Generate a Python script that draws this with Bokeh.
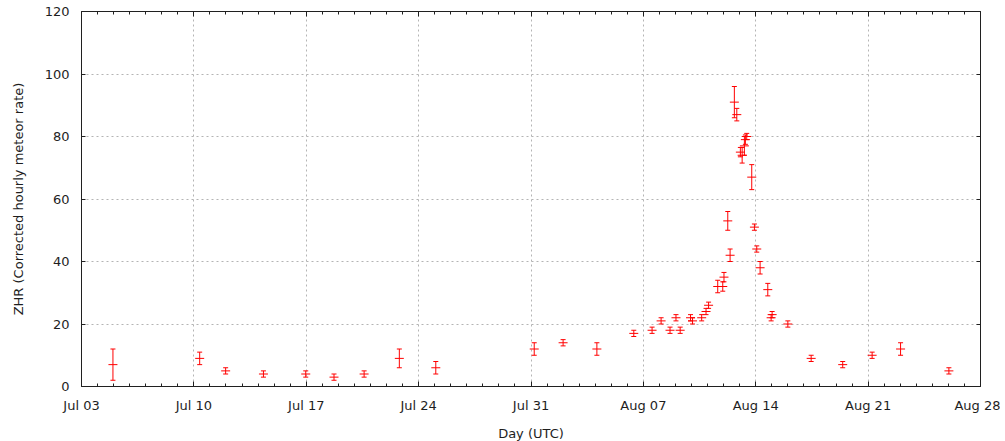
import pandas as pd
from bokeh.plotting import figure
from bokeh.models import (Range1d, FixedTicker, DatetimeAxis, LinearAxis,
                          Whisker, TeeHead, ColumnDataSource, DatetimeTickFormatter,
                          CustomJSTickFormatter)
from bokeh.embed import file_html
from bokeh.resources import INLINE

# ---- data ----
obs_time = [
    "2015-07-04 23:00", "2015-07-10 08:40", "2015-07-11 23:30", "2015-07-14 08:00",
    "2015-07-16 23:15", "2015-07-18 17:30", "2015-07-20 14:30", "2015-07-22 19:10",
    "2015-07-25 01:40", "2015-07-31 04:50", "2015-08-02 00:00", "2015-08-04 02:30",
    "2015-08-06 09:40", "2015-08-07 13:00", "2015-08-08 02:30", "2015-08-08 15:50",
    "2015-08-09 00:45", "2015-08-09 07:00", "2015-08-09 22:30", "2015-08-10 01:30",
    "2015-08-10 15:10", "2015-08-10 21:40", "2015-08-11 01:30", "2015-08-11 15:10",
    "2015-08-11 22:40", "2015-08-12 00:30", "2015-08-12 06:10", "2015-08-12 09:40",
    "2015-08-12 16:00", "2015-08-12 19:40", "2015-08-13 01:00", "2015-08-13 03:40",
    "2015-08-13 07:00", "2015-08-13 08:30", "2015-08-13 10:30", "2015-08-13 18:00",
    "2015-08-13 22:00", "2015-08-14 01:30", "2015-08-14 06:30", "2015-08-14 18:00",
    "2015-08-15 00:30", "2015-08-14 23:00", "2015-08-16 00:00", "2015-08-17 10:50",
    "2015-08-19 10:00", "2015-08-21 06:00", "2015-08-23 00:30", "2015-08-26 00:45",
]
zhr = [
    7, 9, 5, 4, 4, 3, 4, 9, 6, 12, 14, 12,
    17, 18, 21, 18, 22, 18, 22, 21, 22, 24, 26, 32,
    32, 35, 53, 42, 91, 87, 75, 74, 77, 79, 80, 67,
    51, 44, 38, 31, 23, 22, 20, 9, 7, 10, 12, 5,
]
zhr_err = [
    5, 2, 1, 1, 1, 1, 1, 3, 2, 2, 1, 2,
    1, 1, 1, 1, 1, 1, 1, 1, 1, 1, 1, 2,
    1.5, 1.5, 3, 2, 5, 2, 1.5, 2.5, 3, 1.5, 1, 4,
    1, 1, 2, 2, 1, 1, 1, 1, 1, 1, 2, 1,
]
tick_labels = ["Jul 03", "Jul 10", "Jul 17", "Jul 24", "Jul 31",
               "Aug 07", "Aug 14", "Aug 21", "Aug 28"]
y_ticks = [0, 20, 40, 60, 80, 100, 120]
year = "2015"

# ---- derived ----
t = pd.to_datetime(obs_time)
lower = [z - e for z, e in zip(zhr, zhr_err)]
upper = [z + e for z, e in zip(zhr, zhr_err)]
src = ColumnDataSource(dict(x=t, y=zhr, lower=lower, upper=upper))

major_dates = pd.to_datetime([f"{l} {year}" for l in tick_labels], format="%b %d %Y")
to_ms = lambda d: (d - pd.Timestamp("1970-01-01")) / pd.Timedelta("1ms")
major_ms = [float(to_ms(d)) for d in major_dates]
minor_ms = [float(to_ms(d)) for d in pd.date_range(major_dates[0], major_dates[-1], freq="D")]
overrides = {m: l for m, l in zip(major_ms, tick_labels)}

FONT = "DejaVu Sans"
TXT = "#1e1e1e"
AX = "#202020"

p = figure(frame_width=899, frame_height=375, x_axis_type="datetime",
           output_backend="svg", toolbar_location=None,
           min_border_left=81, min_border_right=20, min_border_top=11, min_border_bottom=54,
           x_range=Range1d(major_dates[0], major_dates[-1]),
           y_range=Range1d(y_ticks[0], y_ticks[-1]))
p.outline_line_color = None
p.background_fill_color = "white"
p.border_fill_color = "white"

xt = FixedTicker(ticks=major_ms, minor_ticks=minor_ms)
yt = FixedTicker(ticks=y_ticks, minor_ticks=[])

fmt = DatetimeTickFormatter(days="%b %d", months="%b %d", hours="%b %d",
                            years="%b %d")
blank = CustomJSTickFormatter(code="return ''")

def style_axis(ax, labels=True):
    ax.axis_line_color = AX
    ax.axis_line_width = 1
    ax.major_tick_line_color = AX
    ax.minor_tick_line_color = AX
    ax.major_tick_out = 0
    ax.minor_tick_out = 0
    ax.major_label_text_font = FONT
    ax.major_label_text_font_size = "13px"
    ax.major_label_text_color = TXT
    ax.axis_label_text_font = FONT
    ax.axis_label_text_font_size = "13px"
    ax.axis_label_text_font_style = "normal"
    ax.axis_label_text_color = TXT
    if not labels:
        ax.major_label_standoff = 0

xb = p.xaxis[0]
xb.ticker = xt
xb.formatter = fmt
xb.major_label_overrides = overrides
style_axis(xb)
xb.major_tick_in = 5
xb.minor_tick_in = 3
xb.major_label_standoff = 11
xb.axis_label = "Day (UTC)"
xb.axis_label_standoff = 10

yl = p.yaxis[0]
yl.ticker = yt
style_axis(yl)
yl.major_tick_in = 4
yl.minor_tick_in = 0
yl.major_label_standoff = 12
yl.axis_label = "ZHR (Corrected hourly meteor rate)"
yl.axis_label_standoff = 16

xtop = DatetimeAxis(ticker=xt, formatter=blank)
style_axis(xtop, labels=False)
xtop.major_tick_in = 5
xtop.minor_tick_in = 3
p.add_layout(xtop, "above")

yr = LinearAxis(ticker=yt, formatter=blank)
style_axis(yr, labels=False)
yr.major_tick_in = 4
yr.minor_tick_in = 0
p.add_layout(yr, "right")

p.xgrid.ticker = xt
p.ygrid.ticker = yt
for g in (p.xgrid, p.ygrid):
    g.grid_line_color = "#b4b4b4"
    g.grid_line_dash = "2 3"
    g.grid_line_width = 1

RED = "#ff0000"
w = Whisker(source=src, base="x", lower="lower", upper="upper", dimension="height",
            line_color=RED, line_width=1,
            upper_head=TeeHead(size=5, line_color=RED, line_width=1),
            lower_head=TeeHead(size=5, line_color=RED, line_width=1))
p.add_layout(w)
p.dash(x="x", y="y", source=src, size=9, line_color=RED, line_width=1)

open("out.html", "w").write(file_html(p, INLINE))
